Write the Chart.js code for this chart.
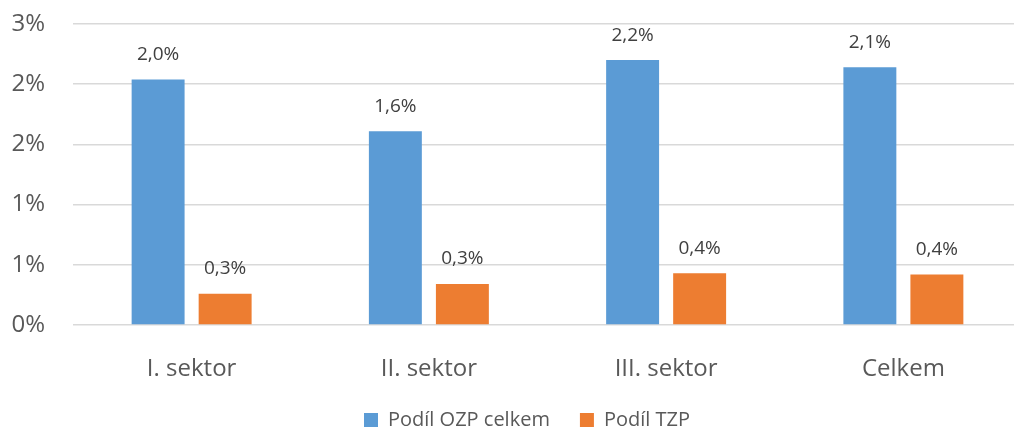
<!DOCTYPE html>
<html lang="cs">
<head>
<meta charset="utf-8">
<title>Podíl OZP a TZP podle sektorů</title>
<script src="https://cdn.jsdelivr.net/npm/chart.js@4/dist/chart.umd.min.js"></script>
<style>
  html, body { margin: 0; padding: 0; background: #fff; overflow: hidden; }
  #wrap { position: relative; width: 1022px; height: 429px; }
</style>
</head>
<body>
<div id="wrap"><canvas id="sektorChart"></canvas></div>
<script>
// sektory a podíly v procentech
const categories = ['I. sektor', 'II. sektor', 'III. sektor', 'Celkem'];
const ozpCelkem = [2.04, 1.61, 2.20, 2.14];
const tzp = [0.26, 0.34, 0.43, 0.42];
const seriesNames = ['Podíl OZP celkem', 'Podíl TZP'];

const FONT = '"Open Sans", "Liberation Sans", sans-serif';

// popisky hodnot nad sloupci
const valueLabels = {
    id: 'valueLabels',
    afterDatasetsDraw(chart) {
        const ctx = chart.ctx;
        ctx.save();
        ctx.font = '19px ' + FONT;
        ctx.fillStyle = '#404040';
        ctx.textAlign = 'center';
        ctx.textBaseline = 'middle';
        chart.data.datasets.forEach((ds, i) => {
            const meta = chart.getDatasetMeta(i);
            meta.data.forEach((bar, j) => {
                const txt = ds.data[j].toFixed(1).replace('.', ',') + '%';
                ctx.fillText(txt, bar.x, bar.y - 25);
            });
        });
        ctx.restore();
    }
};

// legenda trochu doprava
const legendShift = {
    id: 'legendShift',
    afterLayout(chart) {
        if (!chart.legend) return;
        chart.legend.left += 16;
        chart.legend.right += 16;
    }
};

new Chart(document.getElementById('sektorChart'), {
    type: 'bar',
    data: {
        labels: categories,
        datasets: [
            { label: seriesNames[0], data: ozpCelkem, backgroundColor: '#5B9BD5' },
            { label: seriesNames[1], data: tzp, backgroundColor: '#ED7D31' }
        ]
    },
    options: {
        responsive: true,
        maintainAspectRatio: false,
        animation: false,
        categoryPercentage: 0.565,
        barPercentage: 0.79,
        layout: { padding: { top: 24, left: 0, right: 0, bottom: -11 } },
        plugins: {
            tooltip: { enabled: false },
            legend: {
                position: 'bottom',
                labels: {
                    font: { family: FONT, size: 20 },
                    color: '#595959',
                    boxWidth: 14,
                    boxHeight: 14,
                    padding: 30
                }
            }
        },
        scales: {
            x: {
                grid: { display: false },
                border: { display: false },
                ticks: { font: { family: FONT, size: 24 }, color: '#595959', padding: 22 },
                afterFit(scale) { scale.height = 55; }
            },
            y: {
                min: 0,
                max: 2.5,
                border: { display: false },
                grid: { color: '#d9d9d9', lineWidth: 1.5, drawTicks: false },
                ticks: {
                    stepSize: 0.5,
                    font: { family: FONT, size: 24 },
                    color: '#595959',
                    padding: 28,
                    callback: (v) => Math.round(v) + '%'
                },
                afterFit(scale) {
                    scale.width = 73;
                    scale.paddingTop = 0;
                    scale.paddingBottom = 0;
                }
            }
        }
    },
    plugins: [valueLabels, legendShift]
});
</script>
</body>
</html>
